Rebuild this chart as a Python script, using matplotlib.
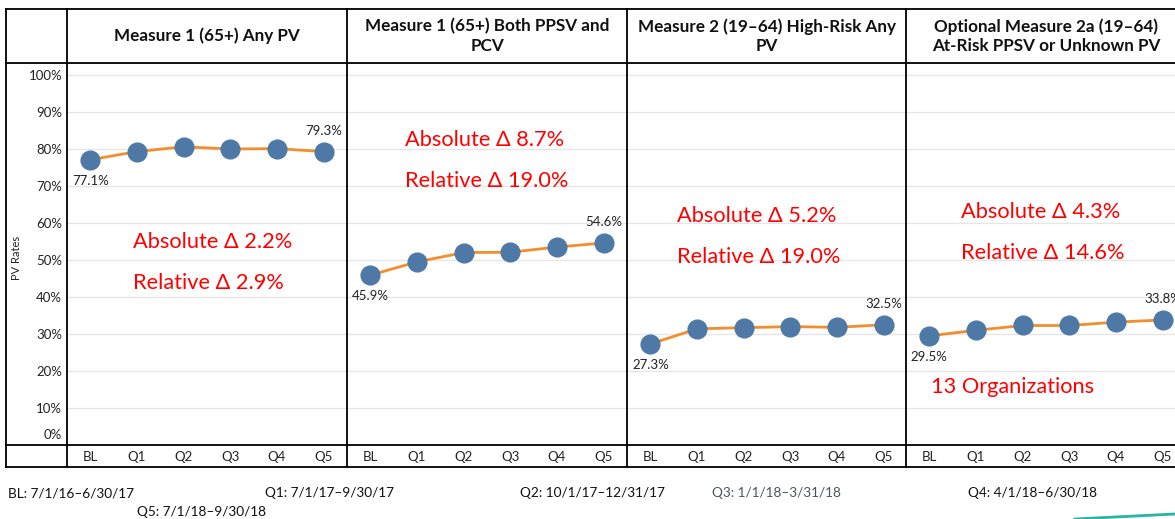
import matplotlib
matplotlib.use("Agg")
import matplotlib.pyplot as plt
from matplotlib.lines import Line2D

plt.rcParams['font.family'] = ['Lato', 'DejaVu Sans']

W, H = 1175, 519
categories = ["BL", "Q1", "Q2", "Q3", "Q4", "Q5"]
titles = ["Measure 1 (65+) Any PV",
          "Measure 1 (65+) Both PPSV and\nPCV",
          "Measure 2 (19\u201364) High-Risk Any\nPV",
          "Optional Measure 2a (19\u201364)\nAt-Risk PPSV or Unknown PV"]
m1_any = [77.1, 79.3, 80.6, 80.0, 80.1, 79.3]
m1_both = [45.9, 49.5, 52.0, 52.1, 53.5, 54.6]
m2_any = [27.3, 31.4, 31.7, 32.0, 31.8, 32.5]
m2a_risk = [29.5, 31.0, 32.3, 32.3, 33.2, 33.8]
series = [m1_any, m1_both, m2_any, m2a_risk]
abs_delta = ["Absolute \u0394 2.2%", "Absolute \u0394 8.7%", "Absolute \u0394 5.2%", "Absolute \u0394 4.3%"]
rel_delta = ["Relative \u0394 2.9%", "Relative \u0394 19.0%", "Relative \u0394 19.0%", "Relative \u0394 14.6%"]
yticks = [10, 20, 30, 40, 50, 60, 70, 80, 90, 100]
footnotes = [("BL: 7/1/16\u20136/30/17", 8, 493, "#111111"),
             ("Q1: 7/1/17\u20139/30/17", 265, 493, "#111111"),
             ("Q2: 10/1/17\u201312/31/17", 520, 493, "#111111"),
             ("Q3: 1/1/18\u20133/31/18", 712, 493, "#4a5560"),
             ("Q4: 4/1/18\u20136/30/18", 968, 493, "#111111"),
             ("Q5: 7/1/18\u20139/30/18", 137, 512, "#111111")]

fig = plt.figure(figsize=(W / 100, H / 100), dpi=100)

def fx(x):
    return x / W

def fy(y):
    return 1 - y / H

panel_x = [67, 347, 627, 906]
pw = 280
top, bot = 63, 445
ymax = (bot - top) / 3.7

# annotation positions (pixel coords): x, abs y, rel y
ann = [(133, 242, 283), (405, 140, 181), (677, 216, 257), (961, 212, 253)]

for i, (px, vals) in enumerate(zip(panel_x, series)):
    ax = fig.add_axes([fx(px), fy(bot), fx(pw), (bot - top) / H])
    ax.set_xlim(-0.5, 5.5)
    ax.set_ylim(0, ymax)
    for s in ax.spines.values():
        s.set_visible(False)
    ax.set_xticks([])
    ax.set_yticks([])
    for t in yticks:
        ax.axhline(t, color="#e6e6e6", lw=1.0, zorder=0)
    ax.plot(range(len(categories)), vals, color="#f28e2b", lw=2, zorder=2,
            marker="o", markersize=13.5, markerfacecolor="#4e79a7",
            markeredgecolor="#4e79a7")
    ax.annotate(f"{vals[0]:.1f}%", (0, vals[0]), xytext=(0, -15), textcoords="offset points",
                ha="center", va="center", fontsize=9.5, color="#222222")
    ax.annotate(f"{vals[-1]:.1f}%", (5, vals[-1]), xytext=(0, 15), textcoords="offset points",
                ha="center", va="center", fontsize=9.5, color="#222222")
    for j, c in enumerate(categories):
        xx = px + pw * (j + 0.5) / 6
        fig.text(fx(xx), fy(457), c, ha="center", va="center", fontsize=9.5, color="#222222")
    fig.text(fx(px + pw / 2), fy(36), titles[i], ha="center", va="center",
             fontsize=12.3, fontweight="bold", color="#111111", linespacing=1.25)
    axx, ay1, ay2 = ann[i]
    fig.text(fx(axx), fy(ay1), abs_delta[i], ha="left", va="center", fontsize=15.7, color="#ff0000")
    fig.text(fx(axx), fy(ay2), rel_delta[i], ha="left", va="center", fontsize=15.7, color="#ff0000")

fig.text(fx(931), fy(387), "13 Organizations", ha="left", va="center", fontsize=15.7, color="#ff0000")

for t in yticks:
    y = 446 - t * 3.7
    fig.text(fx(62), fy(y), f"{t}%", ha="right", va="center", fontsize=9.5, color="#222222")
fig.text(fx(62), fy(435), "0%", ha="right", va="center", fontsize=9.5, color="#222222")
fig.text(fx(16), fy(258), "PV Rates", ha="center", va="center", rotation=90, fontsize=8, color="#222222")

def hline(y, x0, x1, lw=1.3):
    fig.add_artist(Line2D([fx(x0), fx(x1)], [fy(y), fy(y)], color="black", lw=lw))

def vline(x, y0, y1, lw=1.3):
    fig.add_artist(Line2D([fx(x), fx(x)], [fy(y0), fy(y1)], color="black", lw=lw))

hline(9, 6, 1180)
hline(63, 6, 1180)
hline(445, 6, 1180)
hline(467, 6, 1180)
vline(6, 9, 467)
for px in panel_x:
    vline(px, 9, 467)

for txt, x, y, col in footnotes:
    fig.text(fx(x), fy(y), txt, ha="left", va="center", fontsize=9.8, color=col)

fig.add_artist(Line2D([fx(1075), fx(1175)], [fy(519), fy(514)], color="#2bb3a3", lw=2))

fig.savefig("out.png", dpi=100)
